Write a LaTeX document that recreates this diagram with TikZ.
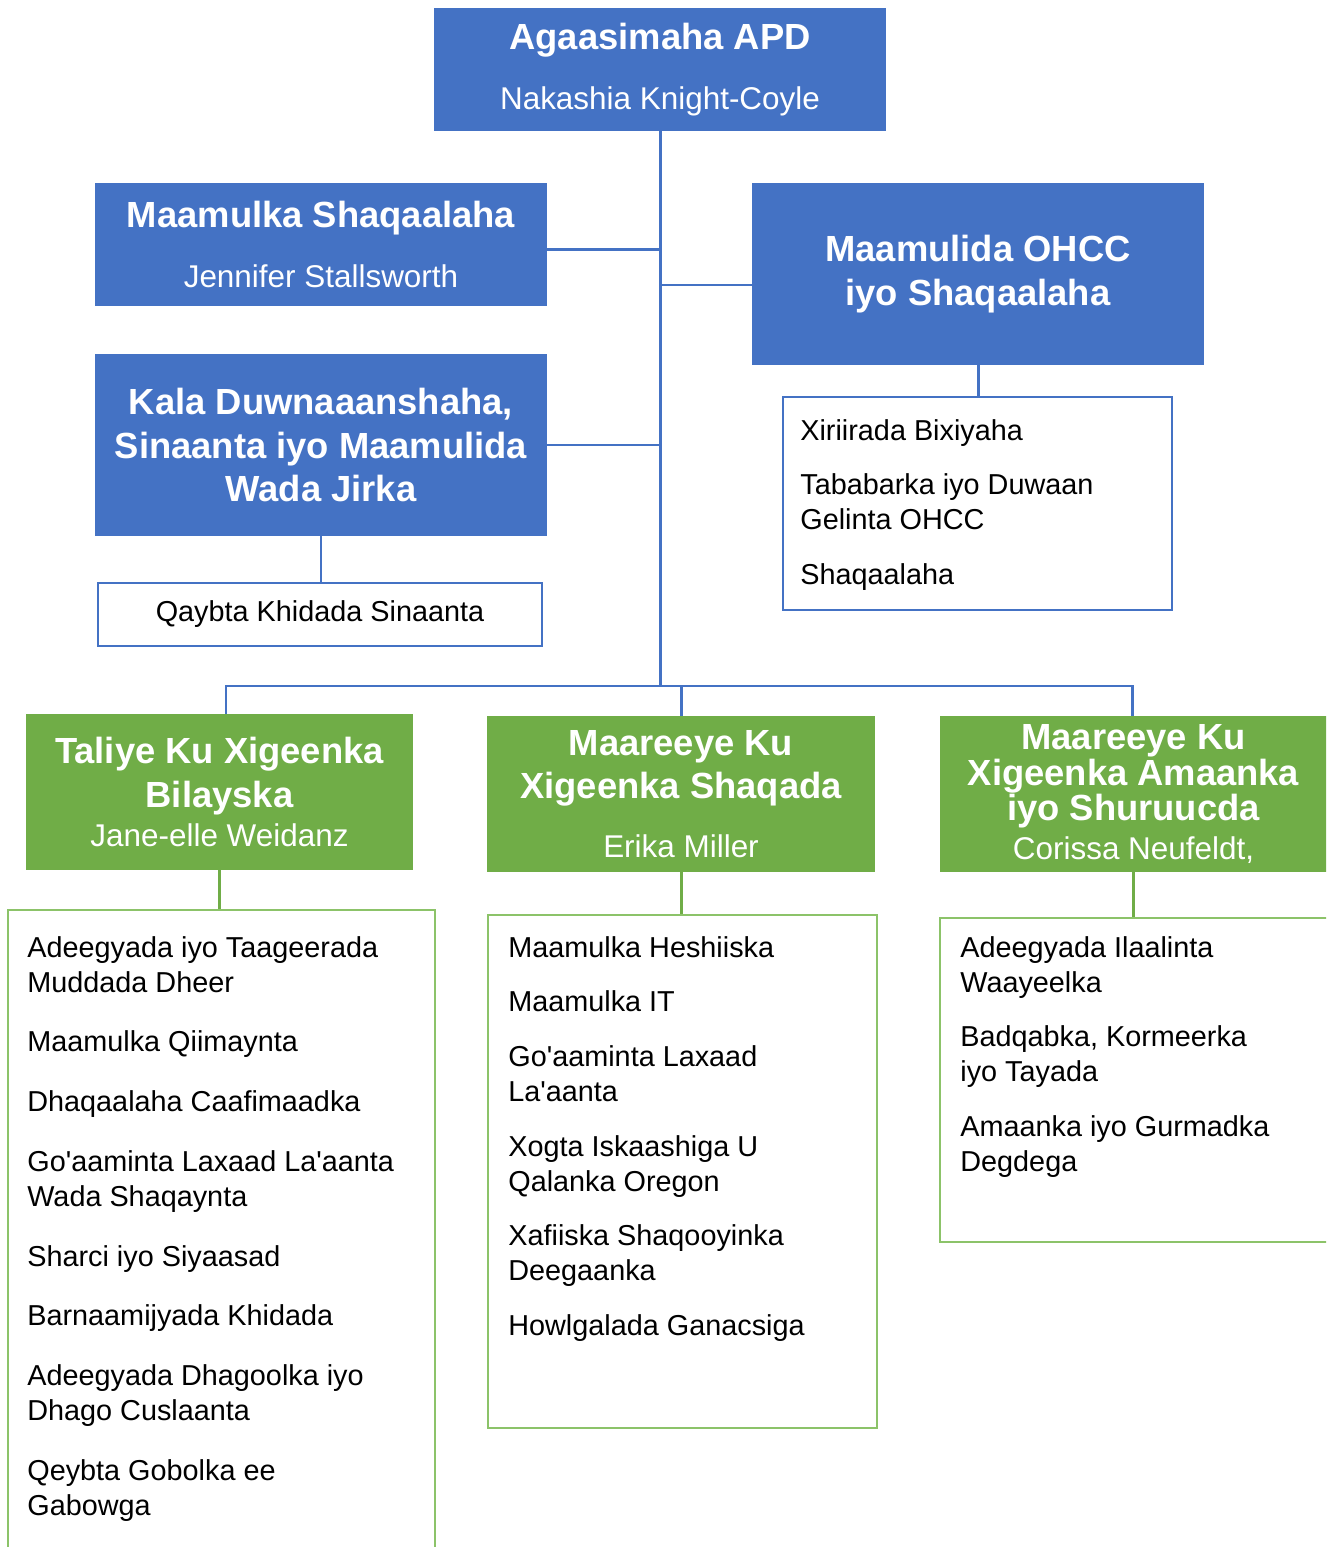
\documentclass[tikz,border=0pt]{standalone}
\usepackage{fontspec}
\setmainfont{Liberation Sans}

\definecolor{apdblue}{HTML}{4472C4}
\definecolor{apdgreen}{HTML}{70AD47}
\definecolor{apdlgreen}{RGB}{140,195,105}

\newcommand{\fnthead}{\fontsize{20.7}{24.9}\selectfont\bfseries}
\newcommand{\fntname}{\fontsize{17.9}{21.5}\selectfont\mdseries}
\newcommand{\fntlist}{\fontsize{16.4}{19.84}\selectfont}
\newcommand{\aps}{\textquotesingle}

\tikzset{
	headbox/.style={fill=apdblue, text=white, align=center, font=\fnthead, inner sep=0pt},
	deputybox/.style={fill=apdgreen, text=white, align=center, font=\fnthead, inner sep=0pt},
	unitbox/.style={draw=apdblue, line width=1.13pt, inner sep=0pt},
	groupbox/.style={draw=apdlgreen, line width=1.13pt, inner sep=0pt},
	listtext/.style={anchor=north west, align=left, font=\fntlist, inner sep=0pt},
	blueline/.style={draw=apdblue, line width=1.7pt},
	greenline/.style={draw=apdgreen, line width=1.7pt}
}

\begin{document}
\begin{tikzpicture}[x=0.02cm, y=-0.02cm]

\def\px{0.02cm}
\def\wide{452*\px}

\path [use as bounding box] (0,0) rectangle (1326,1547);
\clip (0,0) rectangle (1326,1547);

% TOP
\node [headbox, minimum width=\wide, minimum height=123*\px] (apd) at (660,69.5)
	{Agaasimaha APD\\[9pt]{\fntname Nakashia Knight-Coyle}};
\node [headbox, minimum width=\wide, minimum height=123*\px] (shaq) at (321,244.5)
	{Maamulka Shaqaalaha\\[9pt]{\fntname Jennifer Stallsworth}};
\node [headbox, minimum width=\wide, minimum height=182*\px] (ohcc) at (978,274)
	{Maamulida OHCC\\iyo Shaqaalaha};
\node [headbox, minimum width=\wide, minimum height=182*\px] (kala) at (321,445)
	{Kala Duwnaaanshaha,\\Sinaanta iyo Maamulida\\Wada Jirka};

% UNITS
\node [unitbox, minimum width=444*\px, minimum height=63*\px, font=\fntlist] (qayb) at (320,614.5)
	{Qaybta Khidada Sinaanta};
\node [unitbox, minimum width=389*\px, minimum height=213*\px] (ohccl) at (977.5,503.5) {};
\node [listtext] (ohcct) at (800,419)
	{Xiriirada Bixiyaha\\[11.3pt]Tababarka iyo Duwaan\\Gelinta OHCC\\[11.3pt]Shaqaalaha};

% DEPUTIES
\node [deputybox, minimum width=387*\px, minimum height=156*\px] (g1) at (219.5,792)
	{Taliye Ku Xigeenka\\Bilayska\\[-2.8pt]{\fntname Jane-elle Weidanz}};
\node [deputybox, minimum width=388*\px, minimum height=156*\px] (g2) at (681,794)
	{Maareeye Ku\\Xigeenka Shaqada\\[8.5pt]{\fntname Erika Miller}};
\node [deputybox, minimum width=387*\px, minimum height=156*\px] (g3) at (1133.5,794)
	{Maareeye Ku\\[-4.5pt]Xigeenka Amaanka\\[-4.5pt]iyo Shuruucda\\[-2.8pt]{\fntname Corissa Neufeldt,}};

% GROUPS
\node [groupbox, minimum width=427*\px, minimum height=650*\px] (l1) at (221.5,1235) {};
\node [groupbox, minimum width=389*\px, minimum height=513*\px] (l2) at (682.5,1171.5) {};
\node [groupbox, minimum width=389*\px, minimum height=324*\px] (l3) at (1134.5,1080) {};
\node [listtext] (l1t) at (27,936)
	{Adeegyada iyo Taageerada\\Muddada Dheer\\[14.2pt]Maamulka Qiimaynta\\[14.2pt]Dhaqaalaha Caafimaadka\\[14.2pt]Go\aps aaminta Laxaad La\aps aanta\\Wada Shaqaynta\\[14.2pt]Sharci iyo Siyaasad\\[14.2pt]Barnaamijyada Khidada\\[14.2pt]Adeegyada Dhagoolka iyo\\Dhago Cuslaanta\\[14.2pt]Qeybta Gobolka ee\\Gabowga};
\node [listtext] (l2t) at (508,936)
	{Maamulka Heshiiska\\[11.3pt]Maamulka IT\\[11.3pt]Go\aps aaminta Laxaad\\La\aps aanta\\[11.3pt]Xogta Iskaashiga U\\Qalanka Oregon\\[11.3pt]Xafiiska Shaqooyinka\\Deegaanka\\[11.3pt]Howlgalada Ganacsiga};
\node [listtext] (l3t) at (960,936)
	{Adeegyada Ilaalinta\\Waayeelka\\[11.3pt]Badqabka, Kormeerka\\iyo Tayada\\[11.3pt]Amaanka iyo Gurmadka\\Degdega};

% LINKS
\coordinate (bus) at (660,686);
\coordinate (busL) at (226,686);
\coordinate (busR) at (1132,686);
\draw [blueline] (apd.south) -- (bus);
\draw [blueline] ([yshift=-0.1cm]shaq.east) -- ([yshift=-0.1cm]shaq.east -| apd.south);
\draw [blueline] ([yshift=-0.22cm]ohcc.west -| apd.south) -- ([yshift=-0.22cm]ohcc.west);
\draw [blueline] (kala.east) -- (kala.east -| apd.south);
\draw [blueline] (kala.south) -- (kala.south |- qayb.north);
\draw [blueline] (ohcc.south) -- (ohcc.south |- ohccl.north);
\draw [blueline] (busL |- g1.north) -- (busL) -- (busR) -- (busR |- g3.north);
\draw [blueline] (g2.north |- bus) -- (g2.north);
\draw [greenline] (g1.south) -- (g1.south |- l1.north);
\draw [greenline] (g2.south) -- (g2.south |- l2.north);
\draw [greenline] (g3.south) -- (g3.south |- l3.north);

\end{tikzpicture}
\end{document}
